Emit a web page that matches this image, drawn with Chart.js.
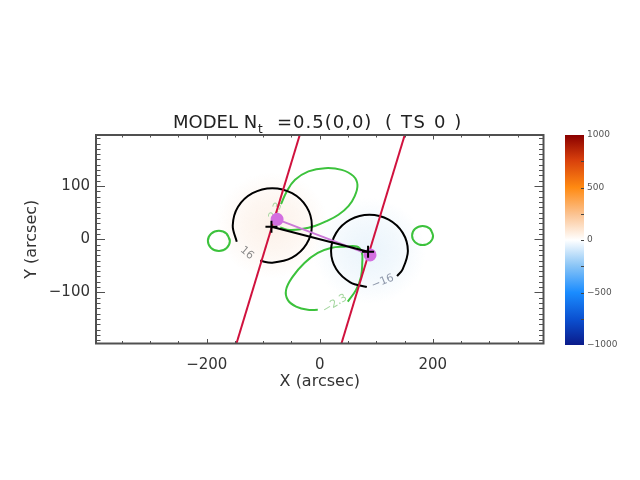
<!DOCTYPE html>
<html>
<head>
<meta charset="utf-8">
<script src="https://cdn.jsdelivr.net/npm/chart.js@4.4.0/dist/chart.umd.min.js"></script>
<style>
  body { margin: 0; background: #fff; }
  #wrap { position: relative; width: 640px; height: 480px; }
  #wrap canvas { position: absolute; top: 0; }
</style>
</head>
<body>
<div id="wrap">
  <canvas id="mapChart" width="640" height="480" style="left:0"></canvas>
  <canvas id="barChart" width="100" height="480" style="left:540px"></canvas>
</div>
<script>
// tick labels
const xTicks = [-200, 0, 200];
const yTicks = [-100, 0, 100];
const colorTicks = [-1000, -500, 0, 500, 1000];

// black contours (+16 left, -16 right), open where the label sits
const posContour = [
    {x: -105.6, y: -40.6}, {x: -84, y: -44}, {x: -49, y: -34.6}, {x: -23.4, y: -9},
    {x: -14, y: 26}, {x: -23.4, y: 61}, {x: -49, y: 86.6}, {x: -84, y: 96},
    {x: -119, y: 86.6}, {x: -144.6, y: 61}, {x: -154, y: 26}, {x: -146.9, y: -4.7}
];
const negContour = [
    {x: 136.9, y: -69.3}, {x: 146.9, y: -56}, {x: 156, y: -22}, {x: 146.9, y: 12},
    {x: 122, y: 36.9}, {x: 88, y: 46}, {x: 54, y: 36.9}, {x: 29.1, y: 12},
    {x: 20, y: -22}, {x: 29.1, y: -56}, {x: 54, y: -80.9}, {x: 83.3, y: -89.9}
];

// green contours (+2.3 / -2.3)
const lobeUpper = [
    {x: -68.5, y: 66.1}, {x: -58.4, y: 90}, {x: -43.7, y: 111.7}, {x: -20, y: 127.5},
    {x: 9.4, y: 133.7}, {x: 38.9, y: 130.5}, {x: 59.6, y: 118.7}, {x: 66.7, y: 102.3},
    {x: 61.9, y: 81.1}, {x: 50.8, y: 62.4}, {x: 33.1, y: 46.1}, {x: 12.4, y: 34.2},
    {x: -8.8, y: 24.9}, {x: -31.9, y: 19.2}, {x: -53.1, y: 17.4}, {x: -70, y: 22}
];
const lobeLower = [
    {x: 49.6, y: -117.2}, {x: 64.2, y: -95.2}, {x: 73.1, y: -70.3}, {x: 75.2, y: -44.6},
    {x: 74.3, y: -23.9}, {x: 65.5, y: -13.6}, {x: 43.7, y: -14}, {x: 19.5, y: -16.4},
    {x: -3.5, y: -25.8}, {x: -27.1, y: -44.6}, {x: -47.8, y: -70.3}, {x: -59.6, y: -95.2},
    {x: -56.6, y: -114}, {x: -41.9, y: -126.5}, {x: -21.2, y: -132.7}, {x: -3.5, y: -132.7}
];
const ringLeft = [
    {x: -159, y: -3}, {x: -164.7, y: 10.4}, {x: -178.5, y: 16}, {x: -192.3, y: 10.4},
    {x: -198, y: -3}, {x: -192.3, y: -16.4}, {x: -178.5, y: -22}, {x: -164.7, y: -16.4},
    {x: -159, y: -3}, {x: -164.7, y: 10.4}
];
const ringRight = [
    {x: 200.6, y: 7}, {x: 195.2, y: 19.7}, {x: 182, y: 25}, {x: 168.8, y: 19.7},
    {x: 163.4, y: 7}, {x: 168.8, y: -5.7}, {x: 182, y: -11}, {x: 195.2, y: -5.7},
    {x: 200.6, y: 7}, {x: 195.2, y: 19.7}
];

// red lines
const lineA = [{x: -147.4, y: -196}, {x: -35.4, y: 196}];
const lineB = [{x: 38.4, y: -196}, {x: 150.4, y: 196}];

// markers
const crossPts = [{x: -85.5, y: 23.5}, {x: 85.5, y: -23.5}];
const dotPts = [{x: -75.5, y: 37.4}, {x: 89, y: -29.5}];

// faint background field
const glowX = [-84, 88];
const glowY = [26, -22];
const glowVal = [40, -40];

// contour labels
const labelText = ['16', '\u221216', '2.3', '\u22122.3'];
const labelX = [-129, 111.5, -78, 26.5];
const labelY = [-26, -80, 53, -121.5];

const minus = v => v < 0 ? '\u2212' + Math.abs(v) : String(v);

Chart.defaults.font.family = 'DejaVu Sans';

const fieldPlugin = {
    id: 'field',
    beforeDatasetsDraw(chart) {
        const {ctx, chartArea: a, scales: {x, y}} = chart;
        ctx.save();
        ctx.beginPath();
        ctx.rect(a.left, a.top, a.right - a.left, a.bottom - a.top);
        ctx.clip();
        glowX.forEach((gx, i) => {
            const cx = x.getPixelForValue(gx);
            const cy = y.getPixelForValue(glowY[i]);
            const rx = x.getPixelForValue(gx + 100) - cx;
            const ry = cy - y.getPixelForValue(glowY[i] + 100);
            const tint = glowVal[i] > 0 ? '252,240,231' : '232,243,251';
            ctx.save();
            ctx.translate(cx, cy);
            ctx.scale(1, ry / rx);
            const g = ctx.createRadialGradient(0, 0, 0, 0, 0, rx);
            g.addColorStop(0, 'rgba(' + tint + ',0.9)');
            g.addColorStop(0.5, 'rgba(' + tint + ',0.55)');
            g.addColorStop(1, 'rgba(' + tint + ',0)');
            ctx.fillStyle = g;
            ctx.beginPath();
            ctx.arc(0, 0, rx, 0, Math.PI * 2);
            ctx.fill();
            ctx.restore();
        });

        // contour labels sit under the marks
        const colors = ['#8a8a8a', '#8e98ab', '#a8d8a2', '#a3d69e'];
        const angles = [40, -22, -65, -32];
        ctx.font = '11px "DejaVu Sans"';
        ctx.textAlign = 'center';
        ctx.textBaseline = 'middle';
        labelText.forEach((t, i) => {
            ctx.save();
            ctx.translate(x.getPixelForValue(labelX[i]), y.getPixelForValue(labelY[i]));
            ctx.rotate(angles[i] * Math.PI / 180);
            ctx.fillStyle = colors[i];
            ctx.fillText(t, 0, 0);
            ctx.restore();
        });
        ctx.restore();
    }
};

// box and inward ticks, IDL style
const framePlugin = {
    id: 'frame',
    afterDatasetsDraw(chart) {
        const {ctx, chartArea: a, scales: {x, y}} = chart;
        ctx.save();
        ctx.strokeStyle = '#505050';
        ctx.lineWidth = 1;
        ctx.beginPath();
        for (let v = -350; v <= 350; v += 50) {
            const px = Math.round(x.getPixelForValue(v)) + 0.5;
            const len = v % 200 === 0 ? 4.5 : 2.5;
            ctx.moveTo(px, a.bottom); ctx.lineTo(px, a.bottom - len);
            ctx.moveTo(px, a.top); ctx.lineTo(px, a.top + len);
        }
        for (let v = -190; v <= 190; v += 10) {
            const py = Math.round(y.getPixelForValue(v)) + 0.5;
            const len = v % 100 === 0 ? 9 : 4.5;
            ctx.moveTo(a.left, py); ctx.lineTo(a.left + len, py);
            ctx.moveTo(a.right, py); ctx.lineTo(a.right - len, py);
        }
        ctx.stroke();
        ctx.lineWidth = 2;
        ctx.strokeRect(a.left, a.top, a.right - a.left, a.bottom - a.top);
        ctx.restore();
    }
};

const titlePlugin = {
    id: 'titleText',
    afterDraw(chart) {
        const ctx = chart.ctx;
        ctx.save();
        ctx.fillStyle = '#222';
        ctx.textBaseline = 'alphabetic';
        ctx.font = '18px "DejaVu Sans"';
        ctx.fillText('MODEL N', 173, 128);
        ctx.font = '12px "DejaVu Sans"';
        ctx.fillText('t', 258, 133);
        ctx.font = '18px "DejaVu Sans"';
        ctx.letterSpacing = '1px';
        ctx.fillText('=0.5(0,0)', 277, 128);
        ctx.letterSpacing = '1.6px';
        ctx.fillText('( TS 0 )', 385, 128);
        ctx.restore();
    }
};

// datasets listed top-most first (Chart.js draws index 0 last)
const mapChart = new Chart(document.getElementById('mapChart'), {
    type: 'scatter',
    data: {
        datasets: [
            {data: crossPts, showLine: true, borderColor: '#000', borderWidth: 2,
                pointStyle: 'cross', pointRadius: 6, pointBorderWidth: 2},
            {data: dotPts, showLine: true, borderColor: '#cc7ad8', borderWidth: 2,
                pointRadius: 5.5, pointBackgroundColor: '#d36fe0', pointBorderColor: '#d36fe0'},
            {data: lineA, showLine: true, borderColor: '#d0123e', borderWidth: 2, pointRadius: 0},
            {data: lineB, showLine: true, borderColor: '#d0123e', borderWidth: 2, pointRadius: 0},
            {data: posContour, showLine: true, borderColor: '#000', borderWidth: 2, pointRadius: 0, tension: 0.35},
            {data: negContour, showLine: true, borderColor: '#000', borderWidth: 2, pointRadius: 0, tension: 0.35},
            {data: lobeUpper, showLine: true, borderColor: '#3cc23c', borderWidth: 2, pointRadius: 0, tension: 0.4},
            {data: lobeLower, showLine: true, borderColor: '#3cc23c', borderWidth: 2, pointRadius: 0, tension: 0.4},
            {data: ringLeft, showLine: true, borderColor: '#3cc23c', borderWidth: 2, pointRadius: 0, tension: 0.375},
            {data: ringRight, showLine: true, borderColor: '#3cc23c', borderWidth: 2, pointRadius: 0, tension: 0.375}
        ]
    },
    options: {
        responsive: false,
        animation: false,
        events: [],
        layout: {padding: {left: 0, top: 135, right: 96.5, bottom: 88.5}},
        plugins: {legend: {display: false}, tooltip: {enabled: false}},
        scales: {
            x: {
                type: 'linear', min: -396, max: 396,
                afterBuildTicks: s => { s.ticks = xTicks.map(v => ({value: v})); },
                afterFit: s => { s.height = 48; },
                grid: {display: false, drawTicks: false},
                border: {display: false},
                ticks: {color: '#333', font: {size: 15}, padding: 13, maxRotation: 0, callback: minus},
                title: {display: true, text: 'X (arcsec)', color: '#333', font: {size: 16}, padding: 0}
            },
            y: {
                type: 'linear', min: -196, max: 196,
                afterBuildTicks: s => { s.ticks = yTicks.map(v => ({value: v})); },
                afterFit: s => { s.width = 96; },
                grid: {display: false, drawTicks: false},
                border: {display: false},
                ticks: {color: '#333', font: {size: 15}, padding: 6, callback: minus},
                title: {display: true, text: 'Y (arcsec)', color: '#333', font: {size: 16}, padding: {top: 22, bottom: 0}}
            }
        }
    },
    plugins: [fieldPlugin, framePlugin, titlePlugin]
});

// colour bar
const barTicksPlugin = {
    id: 'barTicks',
    afterDatasetsDraw(chart) {
        const {ctx, chartArea: a, scales: {y}} = chart;
        ctx.save();
        ctx.strokeStyle = '#444';
        ctx.lineWidth = 1;
        ctx.beginPath();
        for (let v = -750; v <= 750; v += 250) {
            const py = Math.round(y.getPixelForValue(v)) + 0.5;
            ctx.moveTo(a.right, py); ctx.lineTo(a.right - 3, py);
        }
        ctx.stroke();
        ctx.restore();
    }
};

const barChart = new Chart(document.getElementById('barChart'), {
    type: 'bar',
    data: {
        labels: [''],
        datasets: [{
            data: [[colorTicks[0], colorTicks[colorTicks.length - 1]]],
            barPercentage: 1,
            categoryPercentage: 1,
            borderWidth: 0,
            backgroundColor: c => {
                const area = c.chart.chartArea;
                if (!area) return '#fff';
                const g = c.chart.ctx.createLinearGradient(0, area.bottom, 0, area.top);
                g.addColorStop(0, '#0b1b8a');
                g.addColorStop(0.12, '#0b4fcf');
                g.addColorStop(0.25, '#1a8cff');
                g.addColorStop(0.38, '#8cc6f6');
                g.addColorStop(0.5, '#ffffff');
                g.addColorStop(0.62, '#fbc494');
                g.addColorStop(0.75, '#ff8a12');
                g.addColorStop(0.88, '#d8400c');
                g.addColorStop(1, '#8a0000');
                return g;
            }
        }]
    },
    options: {
        responsive: false,
        animation: false,
        events: [],
        layout: {padding: {left: 25, top: 135, right: 0, bottom: 135}},
        plugins: {legend: {display: false}, tooltip: {enabled: false}},
        scales: {
            x: {display: false},
            y: {
                position: 'right', min: -1000, max: 1000,
                afterBuildTicks: s => { s.ticks = colorTicks.map(v => ({value: v})); },
                afterFit: s => { s.width = 56; },
                grid: {display: false, drawTicks: false},
                border: {display: false},
                ticks: {color: '#555', font: {size: 9}, padding: 3, callback: minus}
            }
        }
    },
    plugins: [barTicksPlugin]
});
</script>
</body>
</html>
